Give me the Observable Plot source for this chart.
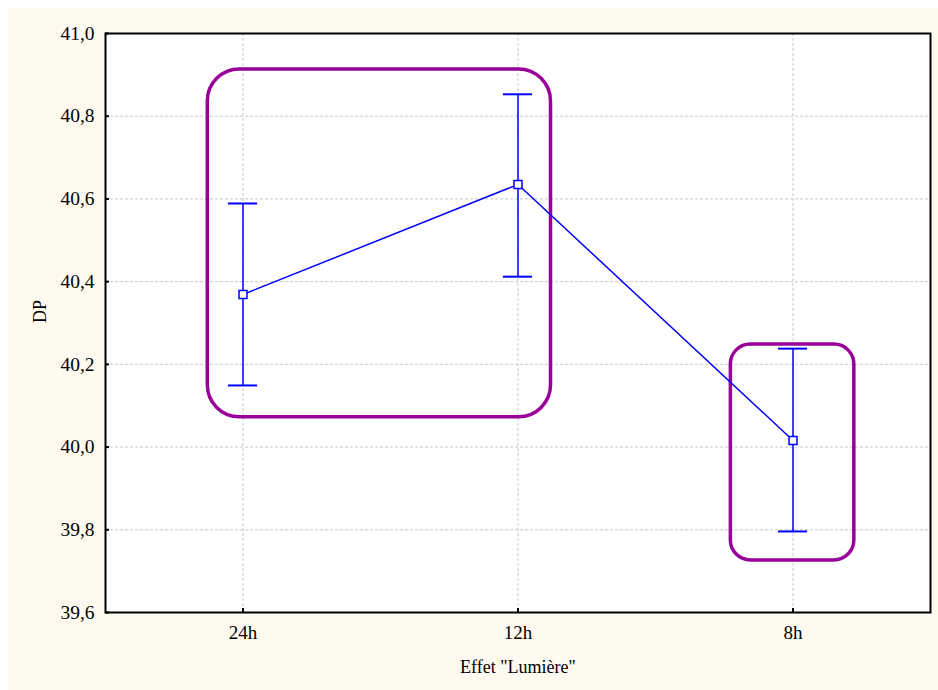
<!DOCTYPE html>
<html>
<head>
<meta charset="utf-8">
<script src="https://cdn.jsdelivr.net/npm/d3@7"></script>
<script src="https://cdn.jsdelivr.net/npm/@observablehq/plot@0.6"></script>
<style>
  html, body { margin: 0; padding: 0; background: #ffffff; overflow: hidden; }
  #chart { padding: 8px 0 0 8px; }
  #chart svg { display: block; max-width: none !important; }
</style>
</head>
<body>
<div id="chart"></div>
<script>
// Categories and values
const categories = ["24h", "12h", "8h"];
const means = [40.369, 40.635, 40.016];
const lower = [40.149, 40.412, 39.796];
const upper = [40.589, 40.853, 40.238];
const yTicks = [39.6, 39.8, 40.0, 40.2, 40.4, 40.6, 40.8, 41.0];

// Highlight boxes (data coordinates: category index, DP value)
const boxX1 = [-0.128, 1.774];
const boxX2 = [1.12, 2.223];
const boxY1 = [40.072, 39.726];
const boxY2 = [40.913, 40.248];
const boxRadius = [32, 20];

const data = categories.map((c, i) => ({i, c, mean: means[i], lo: lower[i], hi: upper[i]}));
const boxes = boxX1.map((_, k) => ({x1: boxX1[k], x2: boxX2[k], y1: boxY1[k], y2: boxY2[k], r: boxRadius[k]}));

const comma = d => d3.format(".1f")(d).replace(".", ",");
const W = 930, H = 682;
const mL = 97, mR = 8, mT = 25, mB = 78;
const innerW = W - mL - mR, innerH = H - mT - mB;
const capHalf = 0.053;
const font = "'Liberation Serif', 'Times New Roman', serif";
const grid = {stroke: "#c8c8c8", strokeDasharray: "3,2", strokeWidth: 1, strokeOpacity: 1};
const blue = "#0000ff";

const chart = Plot.plot({
  width: W,
  height: H,
  marginLeft: mL,
  marginRight: mR,
  marginTop: mT,
  marginBottom: mB,
  style: {background: "#fffaf0", fontFamily: font, fontSize: "19px", color: "#000"},
  x: {type: "linear", domain: [-0.5, 2.5]},
  y: {domain: [39.6, 41.0]},
  marks: [
    Plot.frame({fill: "white", stroke: null}),
    Plot.ruleY(yTicks.slice(1, -1), {y: d => d, ...grid}),
    Plot.ruleX(categories.map((_, i) => i), {x: d => d, ...grid}),
    Plot.axisY({ticks: yTicks, tickFormat: comma, tickSize: 0, tickPadding: 11, label: null, fontSize: 19.5}),
    Plot.axisX({ticks: [0, 1, 2], tickFormat: i => categories[i], tickSize: 0, tickPadding: 13, label: null, fontSize: 19}),
    Plot.tickY(yTicks, {y: d => d, stroke: "black", strokeWidth: 2, insetRight: innerW - 4}),
    Plot.tickX([0, 1, 2], {x: d => d, stroke: "black", strokeWidth: 2, insetTop: innerH - 4}),
    Plot.text(["DP"], {frameAnchor: "left", dx: -65, rotate: -90, fontSize: 18, fill: "black"}),
    Plot.text(["Effet \"Lumière\""], {frameAnchor: "bottom", dy: 60, fontSize: 18, fill: "black"}),
    Plot.rect(boxes.filter(b => b.r === 32), {x1: "x1", x2: "x2", y1: "y1", y2: "y2", rx: 32, fill: "none", stroke: "#990099", strokeWidth: 3.5}),
    Plot.rect(boxes.filter(b => b.r === 20), {x1: "x1", x2: "x2", y1: "y1", y2: "y2", rx: 20, fill: "none", stroke: "#990099", strokeWidth: 3.5}),
    Plot.ruleX(data, {x: "i", y1: "lo", y2: "hi", stroke: blue, strokeWidth: 1.5}),
    Plot.ruleY(data, {y: "lo", x1: d => d.i - capHalf, x2: d => d.i + capHalf, stroke: blue, strokeWidth: 2}),
    Plot.ruleY(data, {y: "hi", x1: d => d.i - capHalf, x2: d => d.i + capHalf, stroke: blue, strokeWidth: 2}),
    Plot.line(data, {x: "i", y: "mean", stroke: blue, strokeWidth: 1.5}),
    Plot.dot(data, {x: "i", y: "mean", symbol: "square", r: 4.5, fill: "white", stroke: blue, strokeWidth: 1.5}),
    Plot.frame({stroke: "black", strokeWidth: 2})
  ]
});
document.getElementById("chart").appendChild(chart);
</script>
</body>
</html>
